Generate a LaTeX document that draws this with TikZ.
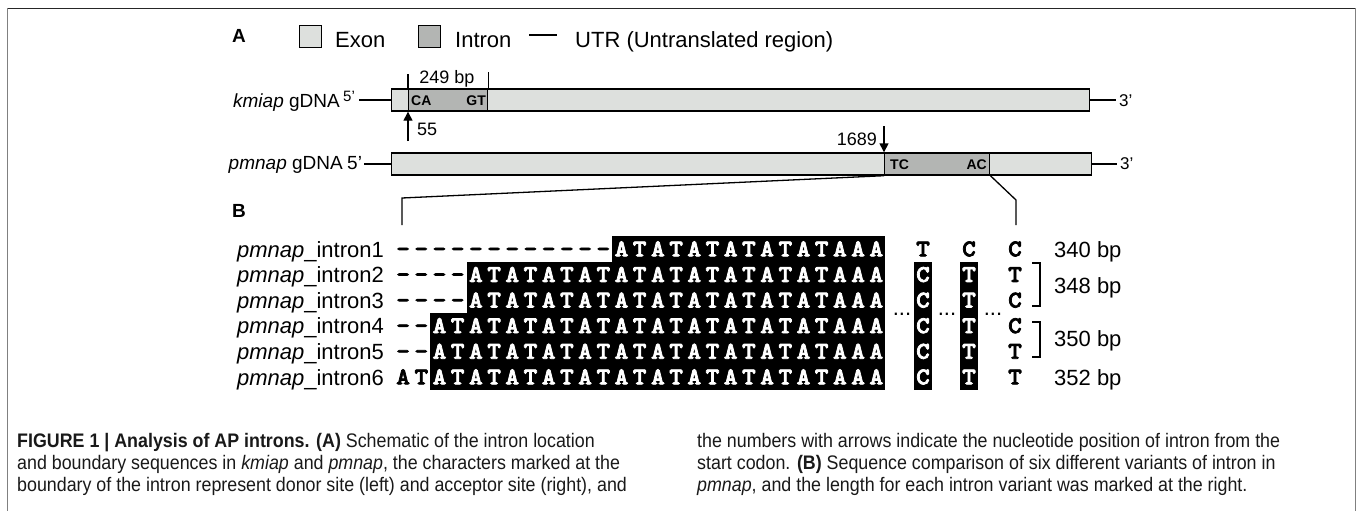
\documentclass[tikz,border=0pt]{standalone}
\usepackage{fontspec}
\setmainfont{Liberation Sans}
\newfontfamily\seqfont{lmmonolt10-bold}[Extension=.otf, FakeBold=3, FakeStretch=1.08]
\newfontfamily\capfont[FakeStretch=0.91]{Liberation Sans}
\usetikzlibrary{arrows.meta, positioning, calc}
\definecolor{exongray}{HTML}{DDE0DD}
\definecolor{introngray}{HTML}{B3B5B3}
\tikzset{exon/.style={draw=black,fill=exongray,line width=1.4pt,inner sep=0pt},
    intron/.style={draw=black,fill=introngray,line width=1.4pt,inner sep=0pt},
    utr/.style={draw,line width=1.4pt},
    legend/.style={font=\fontsize{22}{26}\selectfont,inner sep=0pt},
    genelabel/.style={font=\fontsize{19}{22}\selectfont,inner sep=0pt},
    numlabel/.style={font=\fontsize{18}{21}\selectfont,inner sep=0pt},
    site/.style={font=\fontsize{14}{16}\selectfont\bfseries,inner sep=0pt},
    panel/.style={font=\fontsize{19}{22}\selectfont\bfseries,inner sep=0pt},
    base/.style={font=\fontsize{24}{27}\selectfont\seqfont,inner sep=0pt},
    caption/.style={font=\fontsize{19.6}{22}\selectfont\capfont,text=black!90,inner sep=0pt},
    pointer/.style={line width=1.4pt,-{Triangle[length=9pt,width=9pt]}}}

\begin{document}
\begin{tikzpicture}[x=1pt,y=-1pt]
  \useasboundingbox (0,0) rectangle (1357,511);

  % frame of the figure
  \draw[black!85, line width=1.6pt] (7,8.5) -- (1356,8.5);
  \draw[black!50, line width=1.6pt] (7.5,8.5) -- (7.5,511);
  \draw[black!50, line width=1.6pt] (1355.5,8.5) -- (1355.5,511);

  % Panel A: legend
  \node[panel] (pa) at (239,36) {A};
  \node[exon, minimum size=22pt, anchor=north west] (legexon) at (299,25) {};
  \node[legend, anchor=base west] (legexontxt) at (335,48) {Exon};
  \node[intron, minimum size=22pt, anchor=north west] (legintron) at (418,25) {};
  \node[legend, anchor=base west] (legintrontxt) at (455,48) {Intron};
  \coordinate (utra) at (529,35);
  \coordinate (utrb) at (557,35);
  \draw[utr] (utra) -- (utrb);
  \node[legend, anchor=base west] (legutr) at (575,48) {UTR (Untranslated region)};

  % kmiap gene
  \node[genelabel, anchor=base east] (klab) at (340,107) {\textit{kmiap} gDNA};
  \node[font=\fontsize{15}{17}\selectfont, inner sep=0pt, anchor=base west] (k5) at (343,101) {5’};
  \node[exon, minimum width=698pt, minimum height=22pt, anchor=west] (kgene) at (391,100) {};
  \node[intron, minimum width=79pt, minimum height=22pt, anchor=west] (kint) at (408,100) {};
  \coordinate (k5end) at (359,100);
  \coordinate (k3end) at (1116,100);
  \draw[utr] (k5end) -- (kgene.west);
  \draw[utr] (kgene.east) -- (k3end);
  \node[font=\fontsize{17}{20}\selectfont, inner sep=0pt, anchor=base west] (k3) at (1119,106) {3’};
  \node[site, anchor=base west] (kca) at (411,105) {CA};
  \node[site, anchor=base east] (kgt) at (486,105) {GT};

  % intron length ticks
  \draw[line width=1.2pt] (kint.north west) -- ++(0,-14);
  \draw[line width=1.2pt] (kint.north east) -- ++(0,-16);
  \node[numlabel, anchor=base] (klen) at (447,84) {249 bp};

  % position 55
  \coordinate (k55) at (408,141);
  \draw[pointer] (k55) -- (kint.south west);
  \node[numlabel, anchor=base west] (k55txt) at (417,135) {55};

  % pmnap gene
  \node[genelabel, anchor=base east] (plab) at (343,169) {\textit{pmnap} gDNA};
  \node[genelabel, anchor=base west] (p5) at (347,169) {5’};
  \node[exon, minimum width=700pt, minimum height=22pt, anchor=west] (pgene) at (391,164) {};
  \node[intron, minimum width=105pt, minimum height=22pt, anchor=west] (pint) at (884,164) {};
  \coordinate (p5end) at (364,164);
  \coordinate (p3end) at (1117,164);
  \draw[utr] (p5end) -- (pgene.west);
  \draw[utr] (pgene.east) -- (p3end);
  \node[font=\fontsize{17}{20}\selectfont, inner sep=0pt, anchor=base west] (p3) at (1120,169) {3’};
  \node[site, anchor=base west] (ptc) at (890,169) {TC};
  \node[site, anchor=base east] (pac) at (987,169) {AC};

  % position 1689
  \coordinate (p1689) at (884,126);
  \draw[pointer] (p1689) -- (pint.north west);
  \node[numlabel, anchor=base east] (p1689txt) at (877,145) {1689};

  % zoom lines to panel B
  \coordinate (zl) at (402,198);
  \coordinate (zlb) at (402,225);
  \coordinate (zr) at (1016,200);
  \coordinate (zrb) at (1016,225);
  \draw[line width=1.3pt] (pint.south west) -- (zl) -- (zlb);
  \draw[line width=1.3pt] (pint.south east) -- (zr) -- (zrb);

  % Panel B: alignment
  \node[panel] (pb) at (239,211) {B};

  \foreach \r/\gap/\free in {1/12/0, 2/4/0, 3/4/0, 4/2/0, 5/2/0, 6/0/2} {
    \pgfmathsetmacro{\yy}{249+(\r-1)*25.6}
    \node[legend, anchor=base east] (lab\r) at (384,\yy+8) {\textit{pmnap}\_intron\r};
    \pgfmathsetmacro{\xa}{394+(\gap+\free)*18.2}
    \fill (\xa,\yy-12.8) rectangle (885.4,\yy+12.8);
    \foreach \c in {1,...,27} {
      \pgfmathsetmacro{\xc}{394+(\c-0.5)*18.2}
      \ifnum\c>\gap\relax
        \ifodd\c \def\bs{A}\else \def\bs{T}\fi
        \ifnum\c>24 \def\bs{A}\fi
        \ifnum\c>\numexpr\gap+\free\relax \def\tc{white}\else \def\tc{black}\fi
        \node[base, text=\tc, anchor=base] (b\r-\c) at (\xc,\yy+7.3) {\bs};
      \else
        \node[base, anchor=base] (b\r-\c) at (\xc,\yy+7.3) {–};
      \fi
    }
  }

  % variable sites
  \fill (914,261.8) rectangle (932,390.2);
  \fill (960,261.8) rectangle (978,390.2);
  \foreach \r/\va/\vb/\vc/\tc in {1/T/C/C/black, 2/C/T/T/white, 3/C/T/C/white,
                                 4/C/T/C/white, 5/C/T/T/white, 6/C/T/T/white} {
    \pgfmathsetmacro{\yy}{249+(\r-1)*25.6}
    \node[base, text=\tc, anchor=base] (va\r) at (923,\yy+7.3) {\va};
    \node[base, text=\tc, anchor=base] (vb\r) at (969,\yy+7.3) {\vb};
    \node[base, anchor=base] (vc\r) at (1015,\yy+7.3) {\vc};
  }
  \foreach \x/\name in {902/da, 947/db, 993/dc}
    \node[legend, anchor=base] (\name) at (\x,315) {...};

  % lengths
  \draw[line width=1.2pt] (1032,263) -- (1040,263) -- (1040,306) -- (1032,306);
  \draw[line width=1.2pt] (1032,322) -- (1040,322) -- (1040,357) -- (1032,357);
  \foreach \y/\name/\txt in {257/len1/340 bp, 293/len23/348 bp, 346/len45/350 bp, 385/len6/352 bp}
    \node[legend, anchor=base west] (\name) at (1054,\y) {\txt};

  % caption
  \node[caption, anchor=base west] (capa) at (17,447) {\textbf{FIGURE 1 | Analysis of AP introns. (A)} Schematic of the intron location};
  \node[caption, anchor=base west] (capb) at (17,469) {and boundary sequences in \textit{kmiap} and \textit{pmnap}, the characters marked at the};
  \node[caption, anchor=base west] (capc) at (17,491) {boundary of the intron represent donor site (left) and acceptor site (right), and};
  \node[caption, anchor=base west] (capd) at (697,447) {the numbers with arrows indicate the nucleotide position of intron from the};
  \node[caption, anchor=base west] (cape) at (697,469) {start codon. \textbf{(B)} Sequence comparison of six different variants of intron in};
  \node[caption, anchor=base west] (capf) at (697,491) {\textit{pmnap}, and the length for each intron variant was marked at the right.};
\end{tikzpicture}
\end{document}
